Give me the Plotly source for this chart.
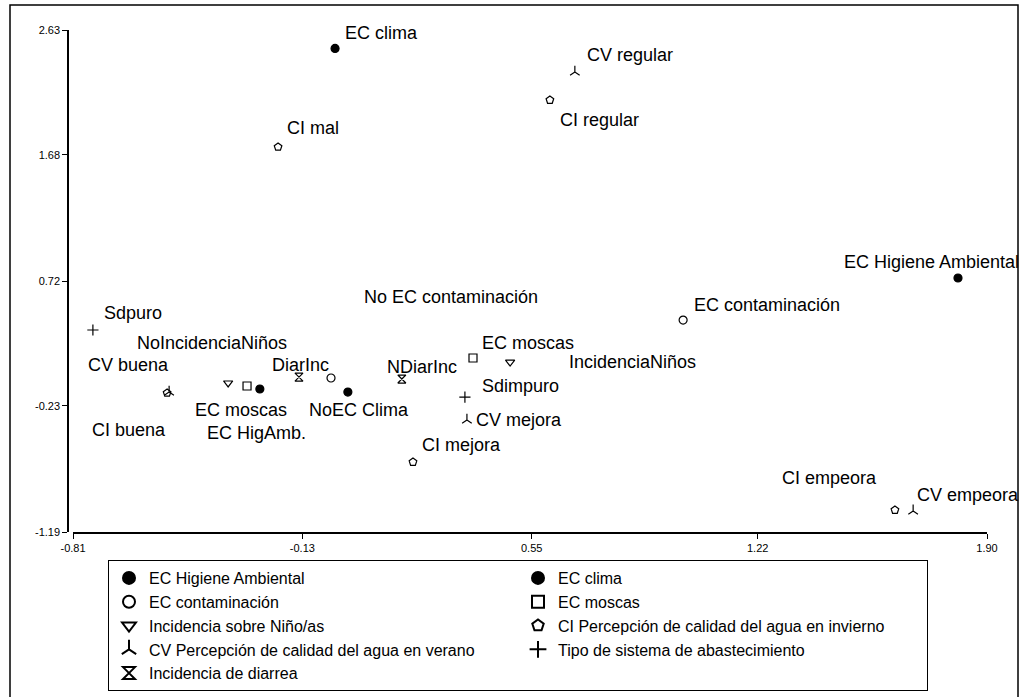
import plotly.graph_objects as go

# Correspondence-analysis category coordinates, one list per variable
ec_hig_labels = ["EC Higiene Ambiental", "EC HigAmb."]
ec_hig_x = [1.814, -0.256]
ec_hig_y = [0.743, -0.102]

ec_clima_labels = ["EC clima", "NoEC Clima"]
ec_clima_x = [-0.033, 0.005]
ec_clima_y = [2.49, -0.125]

ec_cont_labels = ["EC contaminación", "No EC contaminación"]
ec_cont_x = [0.999, -0.045]
ec_cont_y = [0.423, -0.018]

ec_mosc_labels = ["EC moscas", "EC moscas"]
ec_mosc_x = [0.376, -0.294]
ec_mosc_y = [0.134, -0.079]

inc_ninos_labels = ["IncidenciaNiños", "NoIncidenciaNiños"]
inc_ninos_x = [0.486, -0.350]
inc_ninos_y = [0.103, -0.056]

ci_labels = ["CI regular", "CI mal", "CI buena", "CI mejora", "CI empeora"]
ci_x = [0.604, -0.202, -0.531, 0.198, 1.627]
ci_y = [2.097, 1.74, -0.132, -0.658, -1.023]

cv_labels = ["CV regular", "CV buena", "CV mejora", "CV empeora"]
cv_x = [0.678, -0.525, 0.358, 1.681]
cv_y = [2.31, -0.125, -0.338, -1.03]

tipo_labels = ["Sdpuro", "Sdimpuro"]
tipo_x = [-0.751, 0.352]
tipo_y = [0.347, -0.163]

diar_labels = ["DiarInc", "NDiarInc"]
diar_x = [-0.140, 0.165]
diar_y = [-0.011, -0.026]

x_ticks = [-0.81, -0.13, 0.55, 1.22, 1.90]
x_tick_text = ["-0.81", "-0.13", "0.55", "1.22", "1.90"]
y_ticks = [2.63, 1.68, 0.72, -0.23, -1.19]
y_tick_text = ["2.63", "1.68", "0.72", "-0.23", "-1.19"]

# Pixel offsets of each point label from its marker (dx right, dy down)
ec_hig_off = [(-116, -16), (-55, 44)]
ec_clima_off = [(8, -15), (-41, 18)]
ec_cont_off = [(9, -15), (31, -81)]
ec_mosc_off = [(7, -15), (-54, 24)]
inc_ninos_off = [(57, 0), (-93, -40)]
ci_off = [(8, 20), (7, -19), (-77, 37), (7, -17), (-115, -32)]
cv_off = [(10, -17), (-83, -27), (7, 0), (2, -16)]
tipo_off = [(9, -17), (15, -11)]
diar_off = [(-29, -12), (-17, -12)]

series = [
    ("EC Higiene Ambiental", ec_hig_x, ec_hig_y, ec_hig_labels, ec_hig_off, "circle"),
    ("EC clima", ec_clima_x, ec_clima_y, ec_clima_labels, ec_clima_off, "circle"),
    ("EC contaminación", ec_cont_x, ec_cont_y, ec_cont_labels, ec_cont_off, "circle-open"),
    ("EC moscas", ec_mosc_x, ec_mosc_y, ec_mosc_labels, ec_mosc_off, "square-open"),
    ("Incidencia sobre Niño/as", inc_ninos_x, inc_ninos_y, inc_ninos_labels, inc_ninos_off, "triangle-down-open"),
    ("CI Percepción de calidad del agua en invierno", ci_x, ci_y, ci_labels, ci_off, "pentagon-open"),
    ("CV Percepción de calidad del agua en verano", cv_x, cv_y, cv_labels, cv_off, "y-up-open"),
    ("Tipo de sistema de abastecimiento", tipo_x, tipo_y, tipo_labels, tipo_off, "cross-thin-open"),
    ("Incidencia de diarrea", diar_x, diar_y, diar_labels, diar_off, "hourglass-open"),
]

FONT = "Liberation Sans, Arial, sans-serif"

fig = go.Figure()
annotations = []
for name, xs, ys, labels, offs, symbol in series:
    fig.add_trace(go.Scatter(
        x=xs, y=ys, mode="markers", name=name,
        marker=dict(symbol=symbol, size=8, color="black",
                    line=dict(color="black", width=1.2)),
        hoverinfo="text", text=labels,
    ))
    for x, y, lab, (dx, dy) in zip(xs, ys, labels, offs):
        annotations.append(dict(
            x=x, y=y, xref="x", yref="y", text=lab, showarrow=False,
            xanchor="left", yanchor="middle", xshift=dx, yshift=-dy,
            font=dict(family=FONT, size=18, color="black"),
        ))

# Outer frame around chart and legend
shapes = [dict(type="rect", xref="paper", yref="paper",
               x0=-58 / 919, x1=950 / 919, y0=-175 / 502, y1=527 / 502,
               line=dict(color="black", width=1.5), fillcolor="rgba(0,0,0,0)")]

fig.update_layout(
    width=1029, height=697,
    margin=dict(l=68, r=42, t=30, b=165, autoexpand=False),
    paper_bgcolor="white", plot_bgcolor="white",
    showlegend=True,
    annotations=annotations,
    shapes=shapes,
    font=dict(family=FONT, color="black"),
    xaxis=dict(
        range=[-0.81, 1.90], domain=[5 / 919, 1], showgrid=False, zeroline=False,
        showline=True, linecolor="black", linewidth=1.5,
        ticks="outside", ticklen=5, tickcolor="black",
        tickvals=x_ticks, ticktext=x_tick_text,
        tickfont=dict(family=FONT, size=11, color="black"),
    ),
    yaxis=dict(
        range=[-1.19, 2.63], anchor="free", position=0, showgrid=False, zeroline=False,
        showline=True, linecolor="black", linewidth=1.5,
        ticks="outside", ticklen=5, tickcolor="black",
        tickvals=y_ticks, ticktext=y_tick_text,
        tickfont=dict(family=FONT, size=11, color="black"),
    ),
    legend=dict(
        orientation="h", x=40 / 919, y=-28 / 502, xanchor="left", yanchor="top",
        entrywidth=364, entrywidthmode="pixels",
        bordercolor="black", borderwidth=1, bgcolor="white",
        font=dict(family=FONT, size=16, color="black"),
        itemsizing="constant", tracegroupgap=0,
    ),
)

fig.write_html("out.html")
